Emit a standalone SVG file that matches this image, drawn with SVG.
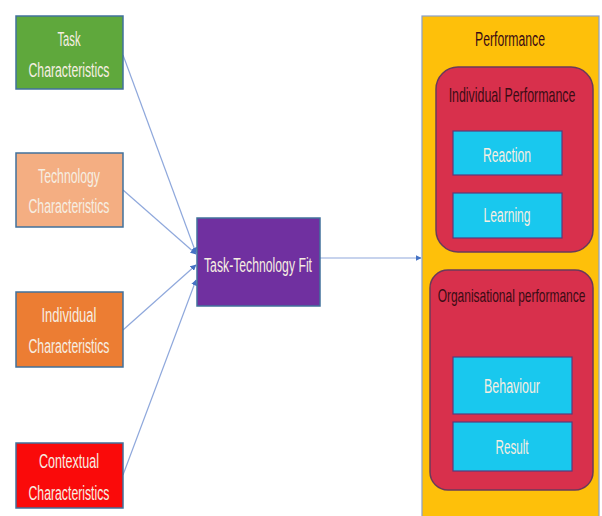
<svg xmlns="http://www.w3.org/2000/svg" width="602" height="516" viewBox="0 0 602 516">
<style>
text{font-family:"Liberation Sans Narrow","Liberation Sans",Arial,sans-serif;font-size:20px;text-anchor:middle}
.lt{fill:#f6eee2}
.box{stroke:#41719c;stroke-width:1.5}
.cy{fill:#19c8ee;stroke:#5a3a7a;stroke-width:1.2}
.rd{fill:#d8304c;stroke:#6a3a5a;stroke-width:1.5}
.dk{fill:#3a0c14}
.ln{stroke:#8fa8dc;stroke-width:1.2;fill:none;marker-end:url(#ah)}
</style>
<defs>
<marker id="ah" viewBox="0 0 10 10" refX="9" refY="5" markerWidth="6" markerHeight="6" orient="auto" markerUnits="userSpaceOnUse">
<path d="M0,0 L10,5 L0,10 z" fill="#4472c4"/>
</marker>
</defs>
<rect width="602" height="516" fill="#ffffff"/>
<g id="connectors">
<line class="ln" x1="123" y1="55" x2="196" y2="253"/>
<line class="ln" x1="123" y1="190" x2="196" y2="254"/>
<line class="ln" x1="123" y1="330" x2="196" y2="265"/>
<line class="ln" x1="123" y1="475" x2="196" y2="280"/>
<line class="ln" x1="320" y1="258" x2="421" y2="258"/>
</g>
<g id="task">
<rect class="box" x="16" y="16" width="107" height="73" fill="#5fa83c"/>
<text class="lt" x="69" y="46" textLength="23" lengthAdjust="spacingAndGlyphs">Task</text>
<text class="lt" x="69" y="77" textLength="81" lengthAdjust="spacingAndGlyphs">Characteristics</text>
</g>
<g id="technology">
<rect class="box" x="16" y="153" width="107" height="74" fill="#f4ae82"/>
<text class="lt" x="69" y="183" textLength="62" lengthAdjust="spacingAndGlyphs" fill="#fbe6d8">Technology</text>
<text class="lt" x="69" y="213" textLength="81" lengthAdjust="spacingAndGlyphs">Characteristics</text>
</g>
<g id="individual">
<rect class="box" x="16" y="292" width="107" height="75" fill="#ec7d33"/>
<text class="lt" x="69" y="322" textLength="55" lengthAdjust="spacingAndGlyphs">Individual</text>
<text class="lt" x="69" y="353" textLength="81" lengthAdjust="spacingAndGlyphs">Characteristics</text>
</g>
<g id="contextual">
<rect class="box" x="16" y="443" width="107" height="65" fill="#fa0a0a"/>
<text class="lt" x="69" y="468" textLength="60" lengthAdjust="spacingAndGlyphs">Contextual</text>
<text class="lt" x="69" y="500" textLength="81" lengthAdjust="spacingAndGlyphs">Characteristics</text>
</g>
<g id="ttf">
<rect class="box" x="197" y="218" width="123" height="88" fill="#7030a0"/>
<text class="lt" x="258" y="272" textLength="108" lengthAdjust="spacingAndGlyphs">Task-Technology Fit</text>
</g>
<g id="performance">
<rect x="422" y="16" width="177" height="510" fill="#fec00a" stroke="#8aa0c8" stroke-width="1.2"/>
<text class="dk" x="510" y="46" textLength="70" lengthAdjust="spacingAndGlyphs" fill="#2a1a08">Performance</text>
</g>
<g id="individual-performance">
<rect class="rd" x="436" y="67" width="157" height="185" rx="22"/>
<text class="dk" transform="translate(512,102) scale(0.75,1)" x="0" y="0" textLength="169" lengthAdjust="spacingAndGlyphs">Individual Performance</text>
</g>
<g id="reaction">
<rect class="cy" x="453" y="131" width="109" height="44"/>
<text class="lt" x="507" y="162" textLength="48" lengthAdjust="spacingAndGlyphs">Reaction</text>
</g>
<g id="learning">
<rect class="cy" x="453" y="193" width="109" height="45"/>
<text class="lt" x="507" y="222" textLength="47" lengthAdjust="spacingAndGlyphs">Learning</text>
</g>
<g id="organisational-performance">
<rect class="rd" x="430" y="270" width="163" height="220" rx="18"/>
<text class="dk" style="font-size:19px" transform="translate(511.5,302) scale(0.75,1)" x="0" y="0" textLength="197" lengthAdjust="spacingAndGlyphs">Organisational performance</text>
</g>
<g id="behaviour">
<rect class="cy" x="453" y="357" width="119" height="57"/>
<text class="lt" x="512" y="393" textLength="56" lengthAdjust="spacingAndGlyphs">Behaviour</text>
</g>
<g id="result">
<rect class="cy" x="453" y="422" width="119" height="49"/>
<text class="lt" x="512" y="454" textLength="33" lengthAdjust="spacingAndGlyphs">Result</text>
</g>
</svg>
